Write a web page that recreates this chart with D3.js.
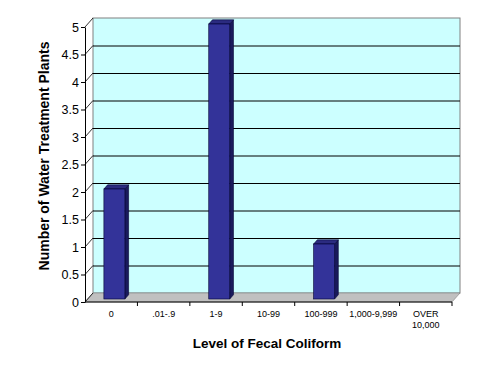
<!DOCTYPE html>
<html>
<head>
<meta charset="utf-8">
<script src="https://cdn.jsdelivr.net/npm/d3@7"></script>
<style>
  body { margin: 0; background: #fff; }
  svg { display: block; font-family: "Liberation Sans", Arial, sans-serif; }
</style>
</head>
<body>
<svg width="491" height="374"></svg>
<script>
// données du graphique
const categories = ["0", ".01-.9", "1-9", "10-99", "100-999", "1,000-9,999", "OVER 10,000"];
const plants = [2, 0, 5, 0, 1, 0, 0];
const yTicks = [0, 0.5, 1, 1.5, 2, 2.5, 3, 3.5, 4, 4.5, 5];

const svg = d3.select("svg");

// profondeur de la vue 3D (décalage vers le mur du fond)
const depthX = 8, depthY = -9;

const x = d3.scaleBand()
    .domain(categories)
    .range([85, 452])
    .paddingInner(0)
    .paddingOuter(0);

const y = d3.scaleLinear()
    .domain([0, 5])
    .range([302, 27]);

// mur du fond
svg.append("rect")
    .attr("x", x.range()[0] + depthX)
    .attr("y", y(5) + depthY)
    .attr("width", x.range()[1] - x.range()[0])
    .attr("height", y(0) - y(5))
    .attr("fill", "#ccffff")
    .attr("stroke", "#808080")
    .attr("stroke-width", 1);

// sol gris
const x0 = x.range()[0], x1 = x.range()[1];
svg.append("path")
    .attr("d", `M${x0},${y(0)} L${x1},${y(0)} L${x1 + depthX},${y(0) + depthY} L${x0 + depthX},${y(0) + depthY} Z`)
    .attr("fill", "#c0c0c0")
    .attr("stroke", "#808080")
    .attr("stroke-width", 0.6);

// lignes de grille (mur du fond) + diagonales sur le côté
svg.selectAll("line.grid")
    .data(yTicks.filter(d => d > 0 && d < 5))
    .join("line")
    .attr("class", "grid")
    .attr("x1", x0 + depthX)
    .attr("x2", x1 + depthX)
    .attr("y1", d => y(d) + depthY + 0.5)
    .attr("y2", d => y(d) + depthY + 0.5)
    .attr("stroke", "#000")
    .attr("stroke-width", 1);

svg.selectAll("line.diag")
    .data(yTicks)
    .join("line")
    .attr("class", "diag")
    .attr("x1", x0)
    .attr("y1", d => y(d))
    .attr("x2", x0 + depthX)
    .attr("y2", d => y(d) + depthY)
    .attr("stroke", "#000")
    .attr("stroke-width", 0.8);

// barres 3D
const bw = x.bandwidth() * 0.4;
const fz = 1 / 3, bz = 0.8; // profondeur avant / arrière des barres
const zeroFront = y(0) + depthY * fz;
const bars = svg.selectAll("g.bar")
    .data(categories.map((c, i) => ({ cat: c, v: plants[i] })).filter(d => d.v > 0))
    .join("g")
    .attr("class", "bar");

const fx = d => x(d.cat) + x.bandwidth() / 2 - bw / 2 + depthX * fz + 0.5;
const ty = d => y(d.v) + depthY * fz;
const ox = depthX * (bz - fz), oy = depthY * (bz - fz);

// côté droit
bars.append("path")
    .attr("d", d => `M${fx(d) + bw},${ty(d)} L${fx(d) + bw + ox},${ty(d) + oy} L${fx(d) + bw + ox},${zeroFront + oy} L${fx(d) + bw},${zeroFront} Z`)
    .attr("fill", "#1a1a5c")
    .attr("stroke", "#000033")
    .attr("stroke-width", 0.6);
// dessus
bars.append("path")
    .attr("d", d => `M${fx(d)},${ty(d)} L${fx(d) + ox},${ty(d) + oy} L${fx(d) + bw + ox},${ty(d) + oy} L${fx(d) + bw},${ty(d)} Z`)
    .attr("fill", "#2b2b80")
    .attr("stroke", "#000033")
    .attr("stroke-width", 0.6);
// face avant
bars.append("rect")
    .attr("x", fx)
    .attr("y", ty)
    .attr("width", bw)
    .attr("height", d => zeroFront - ty(d))
    .attr("fill", "#333399")
    .attr("stroke", "#000033")
    .attr("stroke-width", 0.6);

// axe Y
svg.append("g")
    .attr("transform", `translate(${x0},0)`)
    .call(d3.axisLeft(y).tickValues(yTicks).tickSize(4).tickSizeOuter(0).tickPadding(2).tickFormat(d3.format("")))
    .call(g => g.selectAll("text").attr("font-size", 12.5).attr("fill", "#000").attr("font-family", "Liberation Sans, Arial, sans-serif"))
    .call(g => g.selectAll("line, path").attr("stroke", "#000"));

// axe X (bord avant du sol)
svg.append("line")
    .attr("x1", x0).attr("x2", x1)
    .attr("y1", y(0)).attr("y2", y(0))
    .attr("stroke", "#000");

svg.selectAll("line.xtick")
    .data(categories)
    .join("line")
    .attr("class", "xtick")
    .attr("x1", d => x(d) + x.bandwidth())
    .attr("x2", d => x(d) + x.bandwidth())
    .attr("y1", y(0))
    .attr("y2", y(0) + 4)
    .attr("stroke", "#000");

svg.selectAll("text.xlabel")
    .data(categories)
    .join("text")
    .attr("class", "xlabel")
    .attr("x", d => x(d) + x.bandwidth() / 2)
    .attr("y", 317)
    .attr("text-anchor", "middle")
    .attr("font-size", 9)
    .each(function(d) {
        const parts = d === "OVER 10,000" ? ["OVER", "10,000"] : [d];
        d3.select(this).selectAll("tspan")
            .data(parts)
            .join("tspan")
            .attr("x", x(d) + x.bandwidth() / 2)
            .attr("dy", (p, i) => i === 0 ? 0 : 11)
            .text(p => p);
    });

// titres des axes
svg.append("text")
    .attr("x", 267)
    .attr("y", 348)
    .attr("text-anchor", "middle")
    .attr("font-size", 13.5)
    .attr("font-weight", "bold")
    .text("Level of Fecal Coliform");

svg.append("text")
    .attr("transform", "translate(49,156) rotate(-90)")
    .attr("text-anchor", "middle")
    .attr("font-size", 14)
    .attr("font-weight", "bold")
    .text("Number of Water Treatment Plants");
</script>
</body>
</html>
